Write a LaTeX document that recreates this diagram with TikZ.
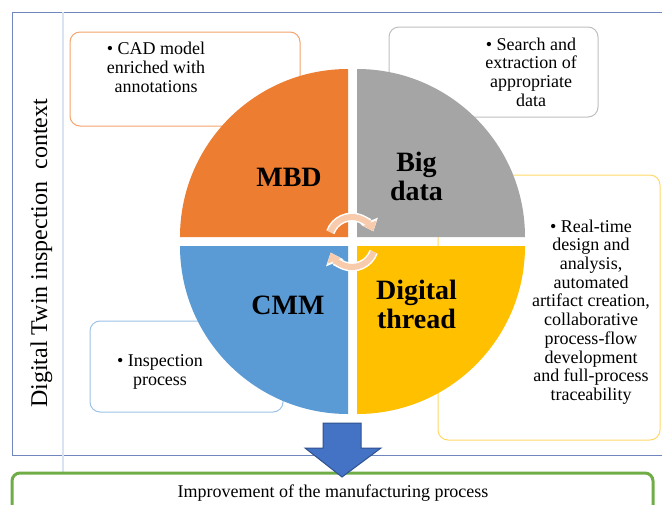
\documentclass[tikz,border=0pt]{standalone}
\usepackage{fontspec}
\setmainfont{Liberation Serif}
\usetikzlibrary{arrows.meta,calc}
\definecolor{qorange}{HTML}{ED7D31}
\definecolor{qgray}{HTML}{A5A5A5}
\definecolor{qblue}{HTML}{5B9BD5}
\definecolor{qyellow}{HTML}{FFC000}
\definecolor{borange}{HTML}{F4A46C}
\definecolor{bgray}{HTML}{BFBFBF}
\definecolor{byellow}{HTML}{FFD966}
\definecolor{bblue}{HTML}{9DC3E6}
\definecolor{framec}{HTML}{6F86BE}
\definecolor{colline}{HTML}{DAE3F3}
\definecolor{greenc}{HTML}{70AD47}
\definecolor{arrowfill}{HTML}{4472C4}
\definecolor{arrowdraw}{HTML}{2F528F}
\definecolor{cycpink}{HTML}{F8CBAD}
\tikzset{
  infobox/.style={rounded corners=10pt, line width=1pt, fill=white, inner sep=0pt},
  bigtext/.style={font=\bfseries\fontsize{28}{29}\selectfont, align=center, inner sep=0pt},
  smalltext/.style={font=\fontsize{18}{18.7}\selectfont, align=center, inner sep=0pt},
  cycwhite/.style={line width=9pt, draw=white, -{Triangle[width=18pt,length=11pt]}},
  cycarrow/.style={line width=6pt, draw=cycpink, -{Triangle[width=14pt,length=9pt]}},
}
\begin{document}
\begin{tikzpicture}[x=1pt,y=-1pt]
\useasboundingbox (0,0) rectangle (662,504);
\fill[white] (0,0) rectangle (662,504);
% frame
\draw[framec, line width=0.9pt] (663,12) -- (12,12) -- (12,455) -- (663,455);
\draw[colline, line width=1.5pt] (63,12) -- (63,472);
% info boxes
\node[infobox, draw=borange, minimum width=230pt, minimum height=94pt] (cadbox) at (185,79) {};
\node[infobox, draw=bgray, minimum width=209pt, minimum height=90pt] (searchbox) at (493.5,72) {};
\node[infobox, draw=byellow, minimum width=222pt, minimum height=265pt] (realbox) at (549,307.5) {};
\node[infobox, draw=bblue, minimum width=193pt, minimum height=91pt] (inspbox) at (186.5,366.5) {};
% quadrants
\fill[qorange] (348,237) -- (180,237) arc[start angle=180,end angle=270,radius=168] -- cycle;
\fill[qgray] (357,237) -- (357,69) arc[start angle=270,end angle=360,radius=168] -- cycle;
\fill[qyellow] (357,246) -- (525,246) arc[start angle=0,end angle=90,radius=168] -- cycle;
\fill[qblue] (348,246) -- (348,414) arc[start angle=90,end angle=180,radius=168] -- cycle;
% cycle arrows
\coordinate (ctop) at (352,240);
\coordinate (cbot) at (352,244);
\draw[cycwhite] ($(ctop)+(200:23)$) arc[start angle=200,end angle=338,radius=23];
\draw[cycarrow] ($(ctop)+(200:23)$) arc[start angle=200,end angle=338,radius=23];
\draw[cycwhite] ($(cbot)+(20:23)$) arc[start angle=20,end angle=158,radius=23];
\draw[cycarrow] ($(cbot)+(20:23)$) arc[start angle=20,end angle=158,radius=23];
% big labels
\node[bigtext, anchor=base] (mbd) at (289,186) {MBD};
\node[bigtext, anchor=base] (cmm) at (288,314) {CMM};
\node[bigtext] (bigdata) at (416.5,176.5) {Big\\data};
\node[bigtext] (thread) at (416.5,304) {Digital\\thread};
% small texts
\node[smalltext] (cadtext) at (156,67.5) {• CAD model\\enriched with\\annotations};
\node[smalltext] (searchtext) at (531,71.9) {• Search and\\extraction of\\appropriate\\data};
\node[smalltext] (realtext) at (591,312) {• Real-time\\design and\\analysis,\\automated\\artifact creation,\\collaborative\\process-flow\\development\\and full-process\\traceability};
\node[smalltext] (insptext) at (160,372.1) {• Inspection\\process};
% side label
\node[font=\fontsize{24}{24}\selectfont, rotate=90, anchor=base, inner sep=0pt] (context) at (47,253.5) {Digital Twin inspection\ \ context};
% bottom box
\draw[greenc, line width=3pt, rounded corners=8pt] (12,530) -- (12,473) -- (653,473) -- (653,530);
\node[smalltext, anchor=base] (improve) at (333,497) {Improvement of the manufacturing process};
% block arrow
\draw[fill=arrowfill, draw=arrowdraw, line width=1pt] (323,423) -- (361,423) -- (361,448) -- (381,448) -- (342,477) -- (305,448) -- (323,448) -- cycle;
\end{tikzpicture}
\end{document}
